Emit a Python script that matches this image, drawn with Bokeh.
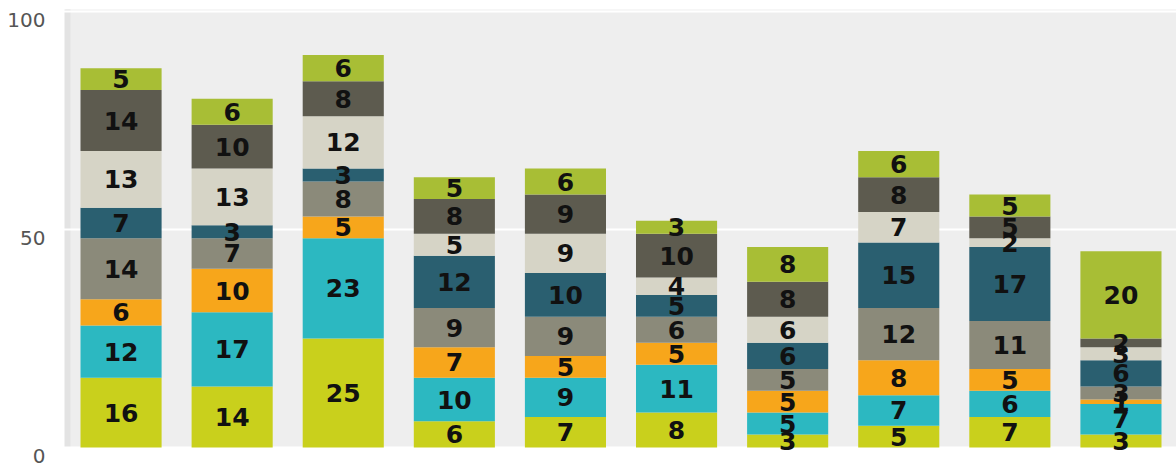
from bokeh.plotting import figure
from bokeh.models import Range1d, FixedTicker, ColumnDataSource, Label, BoxAnnotation
from bokeh.embed import file_html
from bokeh.resources import INLINE
from bokeh.core.properties import value

categories = ["1", "2", "3", "4", "5", "6", "7", "8", "9", "10"]
s1 = [16, 14, 25, 6, 7, 8, 3, 5, 7, 3]
s2 = [12, 17, 23, 10, 9, 11, 5, 7, 6, 7]
s3 = [6, 10, 5, 7, 5, 5, 5, 8, 5, 1]
s4 = [14, 7, 8, 9, 9, 6, 5, 12, 11, 3]
s5 = [7, 3, 3, 12, 10, 5, 6, 15, 17, 6]
s6 = [13, 13, 12, 5, 9, 4, 6, 7, 2, 3]
s7 = [14, 10, 8, 8, 9, 10, 8, 8, 5, 2]
s8 = [5, 6, 6, 5, 6, 3, 8, 6, 5, 20]
y_ticks = [0, 50, 100]

series = [s1, s2, s3, s4, s5, s6, s7, s8]
names = ["s1", "s2", "s3", "s4", "s5", "s6", "s7", "s8"]
colors = ["#c9d01c", "#2cb8c1", "#f7a61b", "#8b8a7a",
          "#2a5f70", "#d6d4c6", "#5d5b4f", "#a8be35"]

# category slots: one unit per category, bars centred in their slot
xpos = [i + 0.5 for i in range(len(categories))]

data = {"x": xpos, "cat": categories}
for n, s in zip(names, series):
    data[n] = s
source = ColumnDataSource(data)

W, H = 1176, 470
left_px, top_px, bottom_px = 65, 9, 23
slot_px = (W - left_px) / len(categories)
unit_px = (H - top_px - bottom_px) / 100.46

p = figure(x_range=Range1d(-left_px / slot_px, len(categories)),
           y_range=Range1d(-bottom_px / unit_px, (H - bottom_px) / unit_px),
           width=W, height=H, output_backend="svg",
           toolbar_location=None, tools="",
           min_border=0)

p.background_fill_color = "white"
p.border_fill_color = "white"
p.outline_line_color = None
p.xaxis.visible = False
p.yaxis.visible = False
p.xgrid.visible = False

# plot-area background (from x = 0 / y = 0 to the top)
p.add_layout(BoxAnnotation(left=0, bottom=0, top=100.46, fill_color="#eeeeee",
                           fill_alpha=1, line_color=None, level="image"))
p.add_layout(BoxAnnotation(left=left_px - 1, right=left_px + 5, left_units="screen",
                           right_units="screen", bottom=0, top=100.46,
                           fill_color="#e3e3e3", fill_alpha=1, line_color=None,
                           level="image"))

p.ygrid.ticker = FixedTicker(ticks=y_ticks)
p.ygrid.grid_line_color = "white"
p.ygrid.grid_line_width = 2
p.ygrid.level = "underlay"

p.vbar_stack(names, x="x", width=0.73, source=source, color=colors,
             line_color=None)

# segment labels
xs, ys, texts = [], [], []
cum = [0] * len(categories)
for s in series:
    for i, v in enumerate(s):
        xs.append(xpos[i])
        ys.append(cum[i] + v / 2)
        texts.append(str(v))
        cum[i] += v
lab = ColumnDataSource(dict(x=xs, y=ys, t=texts))
p.text(x="x", y="y", text="t", source=lab, text_align="center",
       text_baseline="middle", text_font=value("DejaVu Sans"),
       text_font_style="bold", text_font_size="25px", text_color="#111111")

# y tick labels, placed just below each tick as in the reference
for t in y_ticks:
    p.add_layout(Label(x=left_px - 20, x_units="screen", y=t, y_units="data",
                       y_offset=-1, text=str(t), text_align="right",
                       text_baseline="top", text_font="DejaVu Sans",
                       text_font_size="20px", text_color="#555555"))

open("out.html", "w").write(file_html(p, INLINE))
